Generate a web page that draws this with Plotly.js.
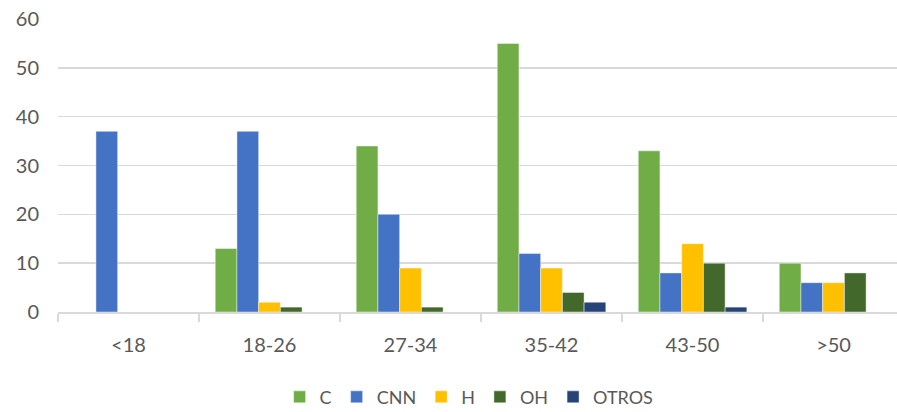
<!DOCTYPE html>
<html>
<head>
<meta charset="utf-8">
<script src="https://cdn.plot.ly/plotly-3.0.1.min.js"></script>
<style>html,body{margin:0;padding:0;overflow:hidden;background:#fff}#chart{width:897px;height:412px}</style>
</head>
<body>
<div id="chart"></div>
<script>
const categories = ["<18", "18-26", "27-34", "35-42", "43-50", ">50"];
const seriesNames = ["C", "CNN", "H", "OH", "OTROS"];
const valuesC = [0, 13, 34, 55, 33, 10];
const valuesCNN = [37, 37, 20, 12, 8, 6];
const valuesH = [0, 2, 9, 9, 14, 6];
const valuesOH = [0, 1, 1, 4, 10, 8];
const valuesOTROS = [0, 0, 0, 2, 1, 0];
const colors = ["#70AD47", "#4472C4", "#FFC000", "#43682B", "#264478"];
const allValues = [valuesC, valuesCNN, valuesH, valuesOH, valuesOTROS];

const traces = seriesNames.map((name, i) => ({
  type: "bar",
  name: name,
  x: categories,
  y: allValues[i],
  marker: {color: colors[i], line: {color: "rgba(255,255,255,0.6)", width: 0.75}},
  hoverinfo: "x+y+name"
}));

const fam = "Lato, 'Open Sans', sans-serif";
const font = {family: fam, size: 20, color: "#595959"};

const layout = {
  width: 897, height: 412,
  margin: {l: 58, r: 0, t: 19, b: 100, autoexpand: false},
  paper_bgcolor: "#fff", plot_bgcolor: "#fff",
  font: font,
  barmode: "group",
  bargap: 0.23,
  bargroupgap: 0,
  showlegend: true,
  legend: {orientation: "h", x: 0.49, xanchor: "center", yref: "container", y: 0.036, yanchor: "middle",
           font: {family: fam, size: 18, color: "#595959"}, itemwidth: 30, tracegroupgap: 0},
  xaxis: {
    type: "category",
    range: [-0.5, 5.45],
    showgrid: false,
    showline: true, linecolor: "#D9D9D9", linewidth: 1.5,
    ticks: "outside", tickson: "boundaries", ticklen: 8, tickcolor: "#D9D9D9", tickwidth: 1.5,
    ticklabelstandoff: 14,
    tickfont: {family: fam, size: 20, color: "#595959"},
    zeroline: false, fixedrange: true
  },
  yaxis: {
    range: [0, 60],
    dtick: 10,
    showgrid: true, gridcolor: "#D9D9D9", gridwidth: 1.5,
    zeroline: false, showline: false,
    ticks: "", ticklabelstandoff: 18,
    tickfont: {family: fam, size: 20, color: "#595959"},
    fixedrange: true
  }
};

Plotly.newPlot("chart", traces, layout, {displayModeBar: false, staticPlot: true});
</script>
</body>
</html>
